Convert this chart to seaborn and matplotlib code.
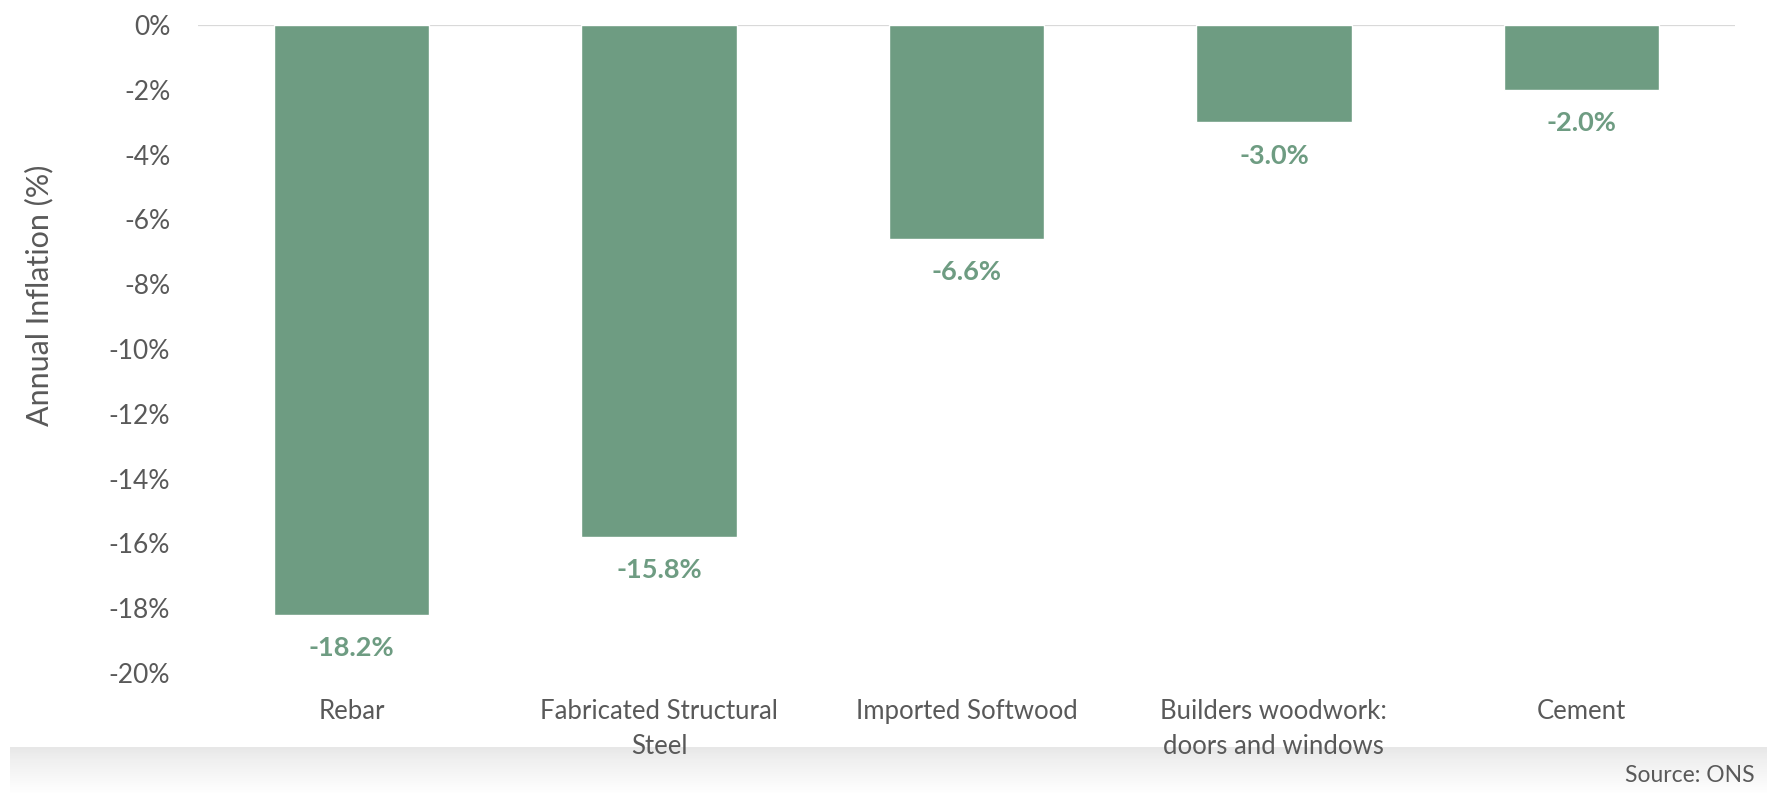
import numpy as np
import pandas as pd
import matplotlib
matplotlib.use("Agg")
import matplotlib.pyplot as plt
import seaborn as sns
from matplotlib.ticker import FuncFormatter

categories = ["Rebar", "Fabricated Structural\nSteel", "Imported Softwood",
              "Builders woodwork:\ndoors and windows", "Cement"]
inflation = [-18.2, -15.8, -6.6, -3.0, -2.0]
yticks = list(range(-20, 1, 2))

bar_green = "#6e9c82"
text_grey = "#595959"

sns.set_theme(style="white")
plt.rcParams["font.family"] = ["Lato", "DejaVu Sans"]

df = pd.DataFrame({"material": categories, "inflation": inflation})

fig = plt.figure(figsize=(17.67, 7.93), dpi=100)

# grey gradient band at the bottom of the slide
band = fig.add_axes([10 / 1767, 0, 1 - 10 / 1767, 46 / 793])
grad = np.linspace(1.0, 0.0, 64).reshape(-1, 1)
band.imshow(grad, aspect="auto", cmap="Greys", vmin=-0.05, vmax=6.0,
            extent=[0, 1, 0, 1])
band.set_axis_off()

ax = fig.add_axes([198 / 1767, 1 - 673 / 793, (1735 - 198) / 1767, (673 - 25) / 793])
sns.barplot(data=df, x="material", y="inflation", color=bar_green,
            saturation=1, width=0.505, ax=ax)

ax.set_ylim(-20, 0)
ax.set_yticks(yticks)
ax.yaxis.set_major_formatter(FuncFormatter(lambda v, p: f"{v:.0f}%"))
ax.axhline(0, color="#d9d9d9", lw=1.6, zorder=0)
for s in ax.spines.values():
    s.set_visible(False)

ax.tick_params(axis="y", labelsize=19, colors=text_grey, pad=20, length=0)
ax.tick_params(axis="x", labelsize=18.5, colors=text_grey, pad=19, length=0)
for lab in ax.get_xticklabels():
    lab.set_linespacing(1.5)
ax.set_xlabel("")
ax.set_ylabel("Annual Inflation (%)", fontsize=22, color=text_grey)
ax.yaxis.set_label_coords(-0.094, 0.583)

for i, v in enumerate(inflation):
    ax.annotate(f"{v:.1f}%", (i, v), xytext=(0, -24), textcoords="offset points",
                ha="center", va="center", fontsize=19.5, fontweight="bold",
                color=bar_green, annotation_clip=False)

fig.text(1755 / 1767, 1 - 775 / 793, "Source: ONS", ha="right", va="center",
         fontsize=16.5, color=text_grey)

fig.savefig("out.png", dpi=100)
